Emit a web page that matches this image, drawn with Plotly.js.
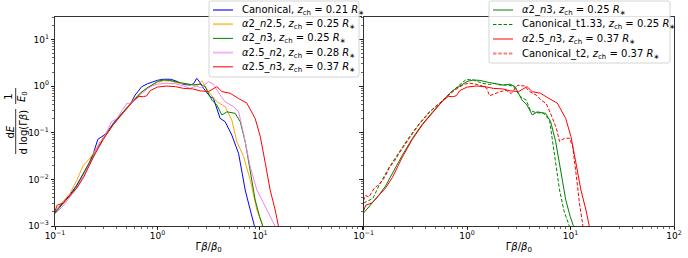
<!DOCTYPE html>
<html>
<head>
<meta charset="utf-8">
<script src="https://cdn.plot.ly/plotly-3.0.1.min.js"></script>
<style>html,body{margin:0;padding:0;background:#fff;}#chart{width:688px;height:258px;}</style>
</head>
<body>
<div id="chart"></div>
<script>
// ---- data ----
const xCanonical = [0.1, 0.12, 0.14, 0.163, 0.19, 0.215, 0.237, 0.262, 0.3, 0.33, 0.372, 0.42, 0.466, 0.52, 0.55, 0.605, 0.703, 0.8, 0.9, 1.0, 1.15, 1.33, 1.5, 1.8, 2.08, 2.25, 2.42, 2.6, 2.82, 3.27, 3.52, 4.09, 4.58, 5.32, 6.19, 7.19, 8.05, 8.87];
const yCanonical = [0.002, 0.0031, 0.0047, 0.0075, 0.014, 0.022, 0.036, 0.072, 0.088, 0.11, 0.16, 0.22, 0.29, 0.37, 0.43, 0.64, 0.97, 1.12, 1.24, 1.33, 1.4, 1.4, 1.3, 1.08, 1.05, 1.12, 1.46, 1.2, 0.89, 0.59, 0.545, 0.203, 0.172, 0.089, 0.036, 0.0059, 0.0022, 0.00098];

const xA2n25 = [0.1, 0.12, 0.14, 0.163, 0.189, 0.215, 0.237, 0.296, 0.372, 0.466, 0.582, 0.68, 0.787, 0.9, 1.0, 1.15, 1.33, 1.6, 2.0, 2.3, 2.5, 2.71, 3.15, 3.8, 4.58, 5.32, 5.96, 6.92, 8.05, 9.35, 10.7];
const yA2n25 = [0.0021, 0.0033, 0.005, 0.0095, 0.02, 0.027, 0.036, 0.08, 0.155, 0.28, 0.5, 0.72, 0.9, 1.08, 1.2, 1.3, 1.28, 1.15, 1.1, 1.08, 1.05, 1.3, 0.76, 0.46, 0.36, 0.187, 0.064, 0.031, 0.0097, 0.0022, 0.00098];

const xA2n3 = [0.1, 0.12, 0.14, 0.163, 0.19, 0.237, 0.296, 0.372, 0.466, 0.582, 0.68, 0.787, 0.9, 1.0, 1.15, 1.33, 1.6, 2.0, 2.25, 2.6, 2.92, 3.4, 3.8, 4.26, 4.76, 5.74, 6.43, 7.19, 8.05, 9.0, 9.93, 10.7];
const yA2n3 = [0.0019, 0.003, 0.0045, 0.0072, 0.0135, 0.033, 0.075, 0.155, 0.28, 0.49, 0.7, 0.9, 1.1, 1.25, 1.35, 1.32, 1.2, 1.08, 1.05, 1.1, 0.97, 0.5, 0.39, 0.24, 0.28, 0.26, 0.172, 0.064, 0.0158, 0.0036, 0.0016, 0.00098];

const xA25n2 = [0.1, 0.12, 0.14, 0.163, 0.19, 0.237, 0.27, 0.296, 0.33, 0.355, 0.4, 0.45, 0.5, 0.54, 0.6, 0.7, 0.8, 0.9, 1.0, 1.2, 1.5, 1.8, 2.08, 2.4, 2.65, 3.15, 3.5, 4.1, 4.58, 5.55, 6.2, 6.92, 8.05, 9.35, 10.9, 12.6, 14.1];
const yA25n2 = [0.0018, 0.0027, 0.0042, 0.0065, 0.012, 0.03, 0.06, 0.075, 0.12, 0.17, 0.2, 0.3, 0.42, 0.43, 0.5, 0.68, 0.88, 1.02, 1.1, 1.15, 1.12, 1.0, 0.89, 1.0, 0.92, 1.24, 1.1, 0.64, 0.46, 0.36, 0.28, 0.097, 0.0186, 0.0059, 0.003, 0.0016, 0.00098];

const xA25n3 = [0.1, 0.105, 0.12, 0.14, 0.163, 0.19, 0.237, 0.296, 0.372, 0.466, 0.582, 0.66, 0.73, 0.787, 0.85, 1.0, 1.23, 1.5, 1.8, 2.2, 2.61, 3.15, 3.8, 4.26, 5.13, 6.19, 7.46, 9.0, 10.1, 11.3, 12.6, 14.1, 15.2];
const yA25n3 = [0.0021, 0.0028, 0.0031, 0.0045, 0.0065, 0.011, 0.03, 0.072, 0.15, 0.27, 0.48, 0.6, 0.59, 0.62, 0.8, 0.95, 1.0, 0.97, 0.89, 0.87, 0.79, 0.76, 0.97, 0.76, 0.70, 0.54, 0.43, 0.2, 0.082, 0.022, 0.0059, 0.0022, 0.00098];

const xCanT133 = [0.1, 0.105, 0.123, 0.142, 0.178, 0.222, 0.277, 0.347, 0.432, 0.54, 0.676, 0.844, 0.98, 1.15, 1.4, 1.65, 1.84, 2.1, 2.4, 2.8, 3.25, 3.73, 4.1, 4.6, 5.5, 6.27, 6.77, 7.83, 8.7, 9.77];
const yCanT133 = [0.0031, 0.0033, 0.0039, 0.0076, 0.0186, 0.039, 0.081, 0.158, 0.28, 0.42, 0.69, 1.05, 1.38, 1.35, 1.15, 1.08, 1.14, 1.05, 1.05, 1.0, 0.6, 0.5, 0.3, 0.27, 0.26, 0.186, 0.059, 0.0059, 0.002, 0.00098];

const xCanT2 = [0.1, 0.104, 0.113, 0.127, 0.142, 0.16, 0.178, 0.2, 0.222, 0.25, 0.277, 0.31, 0.347, 0.39, 0.432, 0.48, 0.54, 0.6, 0.676, 0.75, 0.844, 0.95, 1.05, 1.2, 1.4, 1.55, 1.65, 1.84, 2.1, 2.39, 2.67, 3.09, 3.6, 4.02, 4.66, 5.2, 5.83, 6.5, 7.28, 7.84, 8.77, 9.8, 10.5, 11.4, 12.2, 13.2];
const yCanT2 = [0.0035, 0.0045, 0.0042, 0.0065, 0.0078, 0.011, 0.018, 0.025, 0.037, 0.055, 0.08, 0.11, 0.155, 0.21, 0.27, 0.34, 0.43, 0.53, 0.68, 0.8, 0.95, 1.1, 1.15, 1.1, 1.0, 0.9, 0.62, 0.69, 0.76, 0.81, 0.69, 1.04, 1.0, 0.76, 0.64, 0.5, 0.42, 0.24, 0.126, 0.065, 0.076, 0.076, 0.05, 0.0115, 0.0031, 0.00098];

const xTickVals = [0.1, 1, 10, 100];
const xTickTextLeft = ['10<sup>−1</sup>', '10<sup>0</sup>', '10<sup>1</sup>', ''];
const xTickTextRight = ['10<sup>−1</sup>', '10<sup>0</sup>', '10<sup>1</sup>', '10<sup>2</sup>'];
const yTickVals = [0.001, 0.01, 0.1, 1, 10];
const yTickText = ['10<sup>−3</sup>', '10<sup>−2</sup>', '10<sup>−1</sup>', '10<sup>0</sup>', '10<sup>1</sup>'];

const zch = (v) => ', <i>z</i><sub>ch</sub> = ' + v + ' <i>R</i><sub>∗</sub>';
const nameCanonical = 'Canonical' + zch('0.21');
const nameA2n25 = '<i>α</i>2_<i>n</i>2.5' + zch('0.25');
const nameA2n3 = '<i>α</i>2_<i>n</i>3' + zch('0.25');
const nameA25n2 = '<i>α</i>2.5_<i>n</i>2' + zch('0.28');
const nameA25n3 = '<i>α</i>2.5_<i>n</i>3' + zch('0.37');
const nameCanT133 = 'Canonical_t1.33' + zch('0.25');
const nameCanT2 = 'Canonical_t2' + zch('0.37');

const BLUE = '#0000ff', ORANGE = '#ffa500', GREEN = '#008000', VIOLET = '#ee82ee', RED = '#ff0000';
const DASH = '3.5px,1.8px';
const TXT = 10, TICK = 9;

const traces = [
  {x: xCanonical, y: yCanonical, name: nameCanonical, line: {color: BLUE, width: 1}, xaxis: 'x', yaxis: 'y'},
  {x: xA2n25, y: yA2n25, name: nameA2n25, line: {color: ORANGE, width: 1}, xaxis: 'x', yaxis: 'y'},
  {x: xA2n3, y: yA2n3, name: nameA2n3, line: {color: GREEN, width: 1}, xaxis: 'x', yaxis: 'y'},
  {x: xA25n2, y: yA25n2, name: nameA25n2, line: {color: VIOLET, width: 1}, xaxis: 'x', yaxis: 'y'},
  {x: xA25n3, y: yA25n3, name: nameA25n3, line: {color: RED, width: 1}, xaxis: 'x', yaxis: 'y'},
  {x: xA2n3, y: yA2n3, name: nameA2n3, line: {color: GREEN, width: 1}, xaxis: 'x2', yaxis: 'y2'},
  {x: xCanT133, y: yCanT133, name: nameCanT133, line: {color: GREEN, width: 1, dash: DASH}, xaxis: 'x2', yaxis: 'y2'},
  {x: xA25n3, y: yA25n3, name: nameA25n3, line: {color: RED, width: 1}, xaxis: 'x2', yaxis: 'y2'},
  {x: xCanT2, y: yCanT2, name: nameCanT2, line: {color: RED, width: 1, dash: DASH}, xaxis: 'x2', yaxis: 'y2'}
].map(t => Object.assign({type: 'scatter', mode: 'lines', hoverinfo: 'skip', showlegend: false}, t));

// ---- legend boxes (drawn as layout decorations, compact row spacing like matplotlib) ----
const W = 688, H = 258, ML = 55, MR = 14, MT = 17, MB = 32;
const PW = W - ML - MR, PH = H - MT - MB;
const px2x = (px) => (px - ML) / PW;
const py2y = (py) => (H - MB - py) / PH;

const legends = [
  {box: [209, 1, 359, 77], lineX: [213, 233], textX: 241, rowY0: 10, rowDy: 14.2,
   items: [
     {name: nameCanonical, color: BLUE, width: 2, opacity: 0.55, dash: 'solid'},
     {name: nameA2n25, color: ORANGE, width: 2, opacity: 0.6, dash: 'solid'},
     {name: nameA2n3, color: GREEN, width: 1, opacity: 1, dash: 'solid'},
     {name: nameA25n2, color: VIOLET, width: 2, opacity: 0.6, dash: 'solid'},
     {name: nameA25n3, color: RED, width: 1.2, opacity: 0.85, dash: 'solid'}
   ]},
  {box: [489, 1, 670, 63], lineX: [493, 513], textX: 521, rowY0: 10, rowDy: 14.5,
   items: [
     {name: nameA2n3, color: GREEN, width: 1, opacity: 1, dash: 'solid'},
     {name: nameCanT133, color: GREEN, width: 1, opacity: 1, dash: DASH},
     {name: nameA25n3, color: RED, width: 2, opacity: 0.5, dash: 'solid'},
     {name: nameCanT2, color: RED, width: 2, opacity: 0.5, dash: DASH}
   ]}
];

const shapes = [
  // fraction bars of the y-axis label
  {type: 'line', xref: 'paper', yref: 'paper', x0: px2x(15.7), x1: px2x(15.7), y0: py2y(154), y1: py2y(109), line: {color: 'black', width: 0.8}},
  {type: 'line', xref: 'paper', yref: 'paper', x0: px2x(15.7), x1: px2x(15.7), y0: py2y(104), y1: py2y(88), line: {color: 'black', width: 0.8}}
];
const annotations = [
  {xref: 'paper', yref: 'paper', x: px2x(16), y: py2y(131.5), xanchor: 'center', yanchor: 'middle', showarrow: false,
   textangle: -90, text: 'd<i>E</i><br>d log(Γ<i>β</i>)', font: {size: TXT}},
  {xref: 'paper', yref: 'paper', x: px2x(16), y: py2y(96), xanchor: 'center', yanchor: 'middle', showarrow: false,
   textangle: -90, text: '1<br><i>E</i><sub>0</sub>', font: {size: TXT}}
];

legends.forEach(lg => {
  const [bx0, by0, bx1, by1] = lg.box;
  const r = 2.5;
  const P = (a, b) => px2x(a) + ',' + py2y(b);
  const path = 'M ' + P(bx0 + r, by0) + ' L ' + P(bx1 - r, by0) + ' Q ' + P(bx1, by0) + ' ' + P(bx1, by0 + r) +
    ' L ' + P(bx1, by1 - r) + ' Q ' + P(bx1, by1) + ' ' + P(bx1 - r, by1) +
    ' L ' + P(bx0 + r, by1) + ' Q ' + P(bx0, by1) + ' ' + P(bx0, by1 - r) +
    ' L ' + P(bx0, by0 + r) + ' Q ' + P(bx0, by0) + ' ' + P(bx0 + r, by0) + ' Z';
  shapes.push({type: 'path', xref: 'paper', yref: 'paper', path: path,
    fillcolor: 'rgba(255,255,255,0.85)', line: {color: '#d4d4d4', width: 1}, layer: 'above'});
  lg.items.forEach((it, i) => {
    const py = lg.rowY0 + i * lg.rowDy;
    shapes.push({type: 'line', xref: 'paper', yref: 'paper', x0: px2x(lg.lineX[0]), x1: px2x(lg.lineX[1]),
      y0: py2y(py), y1: py2y(py), opacity: it.opacity, line: {color: it.color, width: it.width, dash: it.dash}, layer: 'above'});
    annotations.push({xref: 'paper', yref: 'paper', x: px2x(lg.textX), y: py2y(py + 0.5), xanchor: 'left', yanchor: 'middle',
      showarrow: false, text: it.name, font: {size: TXT, color: 'black'}, borderpad: 0});
  });
});

const axBase = {
  type: 'log', showgrid: false, zeroline: false,
  showline: true, linecolor: 'black', linewidth: 0.8,
  ticks: 'outside', ticklen: 3.5, tickwidth: 0.8, tickcolor: 'black',
  tickfont: {size: TICK, color: 'black'},
  minor: {ticks: 'outside', ticklen: 2, tickwidth: 0.6, tickcolor: 'black', dtick: 'D1', showgrid: false}
};

const layout = {
  width: W, height: H,
  margin: {l: ML, r: MR, t: MT, b: MB, pad: 0},
  paper_bgcolor: 'white', plot_bgcolor: 'white',
  font: {family: 'DejaVu Sans', size: TXT, color: 'black'},
  showlegend: false,
  xaxis: Object.assign({}, axBase, {domain: [0, 0.4965], range: [-1, 2], anchor: 'y', mirror: true,
    tickmode: 'array', tickvals: xTickVals, ticktext: xTickTextLeft, ticklabelstandoff: -2,
    title: {text: 'Γ<i>β</i>/<i>β</i><sub>0</sub>', font: {size: TXT}, standoff: 2}}),
  xaxis2: Object.assign({}, axBase, {domain: [0.4985, 1], range: [-1, 2], anchor: 'y2', mirror: true,
    tickmode: 'array', tickvals: xTickVals, ticktext: xTickTextRight, ticklabelstandoff: -2,
    title: {text: 'Γ<i>β</i>/<i>β</i><sub>0</sub>', font: {size: TXT}, standoff: 2}}),
  yaxis: Object.assign({}, axBase, {range: [-3, 1.48], anchor: 'x', mirror: false,
    tickmode: 'array', tickvals: yTickVals, ticktext: yTickText}),
  yaxis2: Object.assign({}, axBase, {range: [-3, 1.48], anchor: 'x2', matches: 'y', mirror: true,
    tickmode: 'array', tickvals: yTickVals, showticklabels: false}),
  annotations: annotations,
  shapes: shapes
};

Plotly.newPlot('chart', traces, layout, {staticPlot: true, displayModeBar: false});
</script>
</body>
</html>
